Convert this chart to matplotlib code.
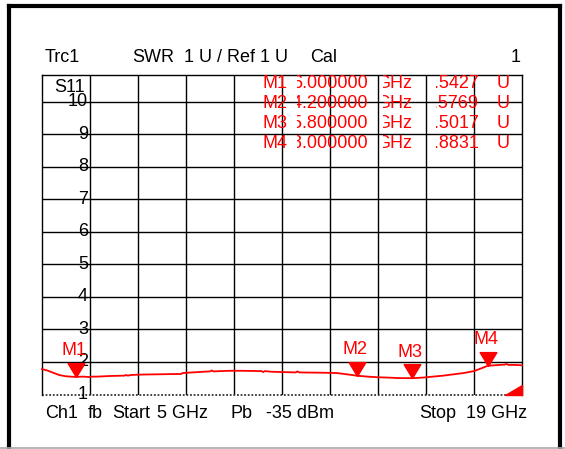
import matplotlib
matplotlib.use("Agg")
import matplotlib.pyplot as plt
from matplotlib import transforms
from matplotlib.lines import Line2D
from matplotlib.patches import Polygon

plt.rcParams['font.family'] = ['Liberation Sans', 'DejaVu Sans']

W, H = 565, 449

# trace data (frequency in GHz, SWR in U)
freq = [5.0, 5.15, 5.3, 5.5, 5.7, 5.9, 6.0, 6.2, 6.4, 6.45, 6.6, 6.8, 7.0, 7.2, 7.4, 7.45,
        7.5, 7.6, 7.8, 8.0, 8.3, 8.6, 8.9, 9.05, 9.1, 9.4, 9.7, 9.9, 9.95, 10.0, 10.2,
        10.5, 10.8, 11.1, 11.4, 11.45, 11.5, 11.7, 12.0, 12.4, 12.45, 12.5, 12.8, 13.2,
        13.6, 13.9, 14.2, 14.5, 14.8, 15.1, 15.4, 15.8, 16.1, 16.4, 16.7, 17.0, 17.3,
        17.6, 17.8, 18.0, 18.2, 18.5, 18.55, 18.6, 18.8, 19.0]
swr = [1.78, 1.74, 1.68, 1.60, 1.56, 1.545, 1.543, 1.55, 1.535, 1.55, 1.55, 1.56, 1.57,
       1.575, 1.58, 1.60, 1.58, 1.60, 1.61, 1.615, 1.62, 1.625, 1.63, 1.63, 1.66, 1.68,
       1.70, 1.71, 1.74, 1.71, 1.72, 1.73, 1.73, 1.725, 1.72, 1.69, 1.72, 1.70, 1.69,
       1.68, 1.71, 1.68, 1.675, 1.67, 1.66, 1.62, 1.577, 1.55, 1.53, 1.52, 1.505, 1.502,
       1.52, 1.55, 1.58, 1.62, 1.66, 1.72, 1.80, 1.883, 1.90, 1.92, 1.94, 1.91, 1.91, 1.90]

# markers
mk_names = ['M1', 'M2', 'M3', 'M4']
mk_freq = [6.0, 14.2, 15.8, 18.0]
mk_val = [1.5427, 1.5769, 1.5017, 1.8831]
mk_freq_txt = ['6.000000', '14.200000', '15.800000', '18.000000']
mk_val_txt = ['1.5427', '1.5769', '1.5017', '1.8831']

y_ticks = [1, 2, 3, 4, 5, 6, 7, 8, 9, 10]
x_ticks = [5.0, 6.4, 7.8, 9.2, 10.6, 12.0, 13.4, 14.8, 16.2, 17.6, 19.0]

fig = plt.figure(figsize=(W / 100, H / 100), dpi=100)
# pixel coords measured from top-left corner
pix = transforms.Affine2D().scale(1 / W, -1 / H).translate(0, 1) + fig.transFigure


def clip_cols(x0, x1):
    # column window in pixel coords (full height)
    return transforms.TransformedBbox(transforms.Bbox([[x0, 0], [x1, H]]), pix)


ax = fig.add_axes([42 / W, 1 - 394.5 / H, 480 / W, 319.5 / H])
ax.set_xlim(5, 19)
ax.set_ylim(1, 10.83)
ax.set_xticks([])
ax.set_yticks([])
for s in ax.spines.values():
    s.set_color('black')
    s.set_linewidth(1.0)
ax.spines['bottom'].set_visible(False)

# grid
for x in x_ticks[1:-1]:
    ax.axvline(x, color='black', lw=1.0, zorder=1)
for y in y_ticks[1:]:
    ax.axhline(y, color='black', lw=1.0, zorder=1)
ax.axhline(1, color='#333333', lw=1.3, ls=(0, (1, 1)), zorder=1, clip_on=False)

# y labels inside the grid
lbl_tr = transforms.blended_transform_factory(ax.transAxes, ax.transData)
for y in y_ticks:
    ax.text(46 / 480, y, str(y), transform=lbl_tr, ha='right', va='center',
            fontsize=13, color='black', zorder=2, clip_on=False)

# trace
ax.plot(freq, swr, color='red', lw=1.3, zorder=3, clip_on=False)

# marker triangles and labels
tri = [(0, 0), (-0.6, 1), (0.6, 1), (0, 0)]
ax.plot(mk_freq, mk_val, ls='none', marker=tri, markersize=20, color='red', zorder=4)
for name, f, v in zip(mk_names, mk_freq, mk_val):
    ax.annotate(name, xy=(f, v), xytext=(-2, 26), textcoords='offset pixels',
                ha='center', va='center', fontsize=13, color='red', zorder=5)

# reference level indicator
ax.add_patch(Polygon([(18.5, 1), (19, 1), (19, 1.29)], closed=True, color='red',
                     clip_on=False, zorder=4))

# marker table
rows_y = [83, 103, 123, 143]
for i, y in enumerate(rows_y):
    fig.text(262, y, mk_names[i], transform=pix, ha='left', va='center',
             fontsize=13, color='red')
    t = fig.text(368, y, mk_freq_txt[i], transform=pix, ha='right', va='center',
                 fontsize=13, color='red')
    t.set_clip_box(clip_cols(297, 380))
    t = fig.text(376, y, 'GHz', transform=pix, ha='left', va='center',
                 fontsize=13, color='red')
    t.set_clip_box(clip_cols(383, 420))
    t = fig.text(479, y, mk_val_txt[i], transform=pix, ha='right', va='center',
                 fontsize=13, color='red')
    t.set_clip_box(clip_cols(436, 490))
    fig.text(497, y, 'U', transform=pix, ha='left', va='center',
             fontsize=13, color='red')

# header and footer
header = [('Trc1', 45), ('SWR', 132), ('1 U /', 184), ('Ref 1 U', 227), ('Cal', 310)]
for txt, x in header:
    fig.text(x, 57, txt, transform=pix, ha='left', va='center', fontsize=13)
fig.text(521, 57, '1', transform=pix, ha='right', va='center', fontsize=13)
fig.text(54, 88, 'S11', transform=pix, ha='left', va='center', fontsize=13)

footer = [('Ch1', 45), ('fb', 88), ('Start', 112), ('5 GHz', 157), ('Pb', 230),
          ('-35 dBm', 266), ('Stop', 419), ('19 GHz', 466)]
for txt, x in footer:
    fig.text(x, 413, txt, transform=pix, ha='left', va='center', fontsize=13)

# outer frame
fig.add_artist(Line2D([9, 9], [5.5, 460], transform=pix, color='black', lw=3))
fig.add_artist(Line2D([9, 560], [5.5, 5.5], transform=pix, color='black', lw=3))
fig.add_artist(Line2D([560, 560], [5.5, 460], transform=pix, color='black', lw=3))
fig.add_artist(Line2D([0, W], [447.5, 447.5], transform=pix, color='#aaaaaa', lw=1.2))

fig.savefig('out.png', dpi=100)
